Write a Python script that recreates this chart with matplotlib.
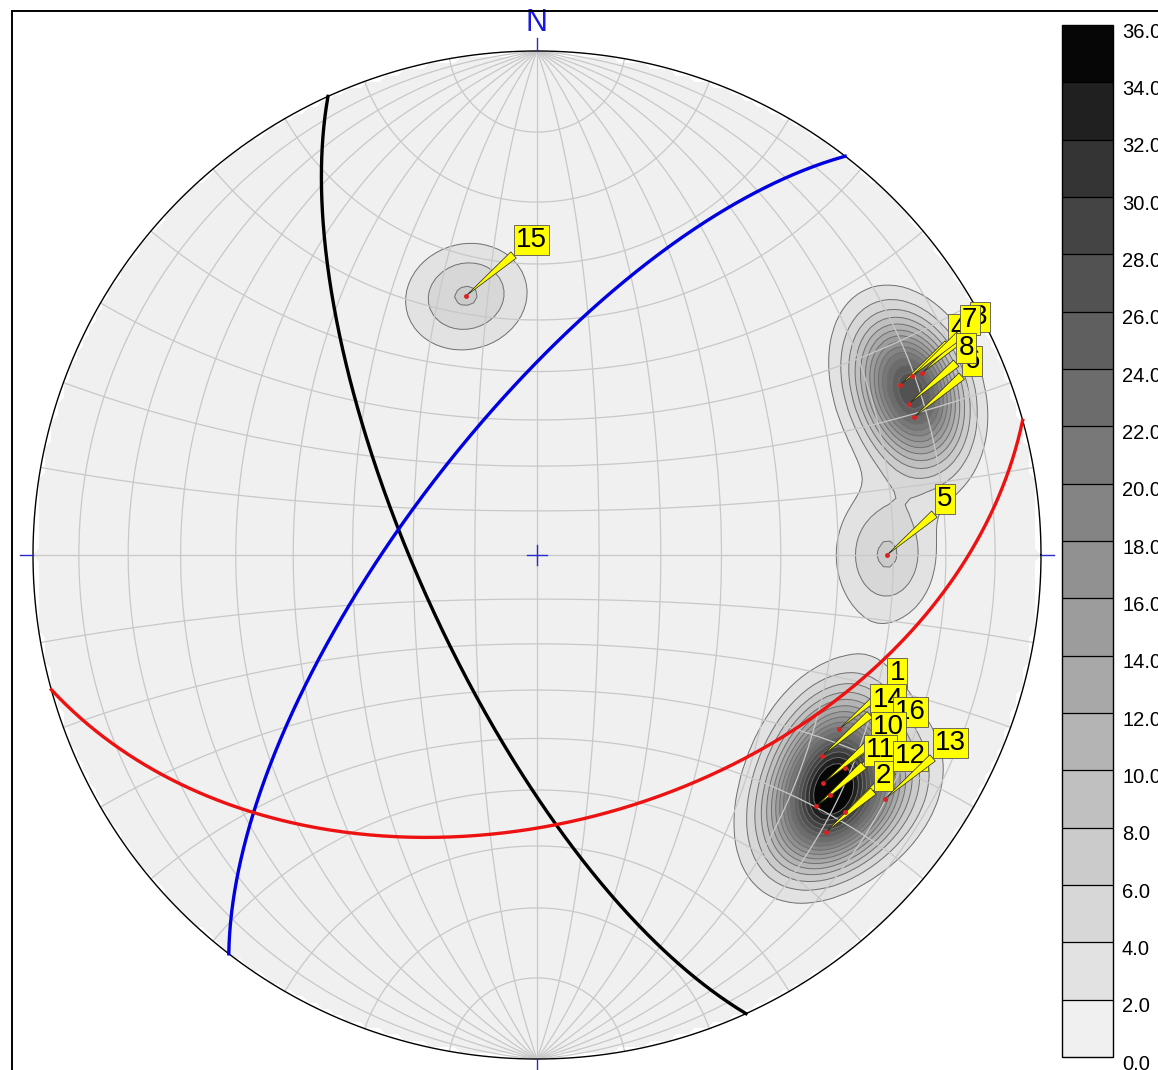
import numpy as np
import matplotlib.pyplot as plt
from matplotlib.colors import ListedColormap, BoundaryNorm
from matplotlib.lines import Line2D

plt.rcParams['font.family'] = ['Liberation Sans', 'DejaVu Sans']

# poles to planes: id, trend, plunge (deg, lower hemisphere)
pole_ids = [15, 5, 4, 3, 7, 6, 8, 1, 14, 16, 9, 10, 11, 12, 2, 13]
pole_trend = [344.7, 90.0, 64.9, 64.7, 64.5, 69.9, 67.9,
              119.9, 125.1, 124.7, 129.3, 128.6, 132.0, 129.8, 133.8, 125.0]
pole_plunge = [45.7, 31.2, 21.5, 16.6, 18.7, 21.4, 21.5,
               31.4, 31.4, 26.6, 25.8, 28.2, 26.4, 21.5, 21.7, 16.8]

# great circles, right hand rule strike / dip
plane_strike = [155.5, 217.7, 74.5]
plane_dip = [71.0, 69.5, 46.0]
plane_colors = ['black', '#0000e0', '#ee1111']

# density bands
levels = np.arange(0, 38, 2)
band_grays = [240, 226, 215, 203, 192, 180, 168, 156, 145, 132,
              120, 108, 95, 82, 68, 52, 32, 6]

KAPPA = 90.0
R_PX = 504.0
CX, CY = 537.0, 555.0
W, H = 1158, 1070


def line_xy(trend, plunge):
    t = np.radians(trend)
    p = np.radians(plunge)
    n = np.cos(p) * np.cos(t)
    e = np.cos(p) * np.sin(t)
    d = np.sin(p)
    s = np.sqrt(1 + d)
    return e / s, n / s


def plane_xy(strike, dip, num=361):
    s = np.radians(strike)
    dd = s + np.pi / 2
    dp = np.radians(dip)
    rake = np.linspace(0, np.pi, num)
    sv = np.array([np.cos(s), np.sin(s), 0.0])
    dv = np.array([np.cos(dd) * np.cos(dp), np.sin(dd) * np.cos(dp), np.sin(dp)])
    v = np.outer(np.cos(rake), sv) + np.outer(np.sin(rake), dv)
    n, e, d = v.T
    d = np.clip(d, 0, None)
    s_ = np.sqrt(1 + d)
    return e / s_, n / s_


fig = plt.figure(figsize=(W / 100, H / 100), dpi=100)
ax = fig.add_axes([0, 0, 1, 1])
ax.set_xlim(-CX / R_PX, (W - CX) / R_PX)
ax.set_ylim(-(H - CY) / R_PX, CY / R_PX)
ax.axis('off')

# pole density (fisher kernel, axial)
tr = np.radians(pole_trend)
pl = np.radians(pole_plunge)
pv = np.stack([np.cos(pl) * np.sin(tr), np.cos(pl) * np.cos(tr), np.sin(pl)], axis=1)

g = np.linspace(-1, 1, 161)
X, Y = np.meshgrid(g, g)
R2 = X ** 2 + Y ** 2
D3 = np.clip(1 - R2, 0, None)
S3 = np.sqrt(1 + D3)
E3, N3 = X * S3, Y * S3
dens = np.zeros_like(X)
for e_i, n_i, d_i in pv:
    c = np.abs(E3 * e_i + N3 * n_i + D3 * d_i)
    dens += np.exp(KAPPA * (c - 1))
dens *= 100.0 / len(pole_ids)
dens = np.clip(dens, 0, 35.9)
dens = np.ma.masked_where(R2 > 1.0, dens)

cmap = ListedColormap([(v / 255, v / 255, v / 255) for v in band_grays])
norm = BoundaryNorm(levels, cmap.N)
cs = ax.contourf(X, Y, dens, levels=levels, cmap=cmap, norm=norm, zorder=1)
ax.contour(X, Y, dens, levels=levels[1:-1], colors='#707070', linewidths=0.7, zorder=1.5)

# net: meridians (equal area) and small circles
phi = np.radians(np.linspace(-90, 90, 361))
for lon in range(-80, 90, 10):
    lam = np.radians(lon)
    x3 = np.cos(phi) * np.sin(lam)
    y3 = np.sin(phi)
    z3 = np.cos(phi) * np.cos(lam)
    s = np.sqrt(1 + z3)
    ax.plot(x3 / s, y3 / s, color='#c8c8c8', lw=0.9, zorder=2)
lam = np.radians(np.linspace(-90, 90, 361))
for lat in range(-80, 90, 10):
    ph = np.radians(lat)
    x3 = np.cos(ph) * np.sin(lam)
    y3 = np.sin(ph) * np.ones_like(lam)
    z3 = np.cos(ph) * np.cos(lam)
    ax.plot(x3 / (1 + z3), y3 / (1 + z3), color='#c8c8c8', lw=0.9, zorder=2)

a = np.linspace(0, 2 * np.pi, 721)
ax.plot(np.cos(a), np.sin(a), color='black', lw=1.0, zorder=3)

# planes
for st, dp, col in zip(plane_strike, plane_dip, plane_colors):
    px, py = plane_xy(st, dp)
    ax.plot(px, py, color=col, lw=2.4, zorder=3)

# north mark, ticks and centre cross
tick = 13 / R_PX
blue = '#2a2ad0'
ax.plot([0, 0], [1, 1 + tick], color=blue, lw=1.0, zorder=3)
ax.plot([0, 0], [-1, -1 - tick], color=blue, lw=1.0, zorder=3)
ax.plot([1, 1 + tick], [0, 0], color=blue, lw=1.0, zorder=3)
ax.plot([-1, -1 - tick], [0, 0], color=blue, lw=1.0, zorder=3)
c = 10 / R_PX
ax.plot([-c, c], [0, 0], color=blue, lw=1.0, zorder=3)
ax.plot([0, 0], [-c, c], color=blue, lw=1.0, zorder=3)
ax.text(0, 1 + tick, 'N', color='#1a1ae0', fontsize=22, ha='center', va='bottom', zorder=3)

# labelled poles
xs, ys = line_xy(np.array(pole_trend), np.array(pole_plunge))
for pid, x, y in zip(pole_ids, xs, ys):
    ax.annotate(str(pid), xy=(x, y), xytext=(50, 43), textcoords='offset pixels',
                ha='left', va='bottom', fontsize=20, zorder=5,
                bbox=dict(boxstyle='square,pad=0.08', fc='#ffff00', ec='#555555', lw=0.6),
                arrowprops=dict(arrowstyle='wedge,tail_width=0.3', fc='#ffff00',
                                ec='#222222', lw=0.5, relpos=(0, 0),
                                shrinkA=0, shrinkB=0))
ax.plot(xs, ys, 'o', color='#dd2020', ms=2.5, zorder=6)

# colour scale
cax = fig.add_axes([1062 / W, (H - 1057) / H, 51 / W, 1032 / H])
cb = fig.colorbar(cs, cax=cax, ticks=levels, drawedges=True)
cb.outline.set_linewidth(1.0)
cb.dividers.set_linewidth(0.9)
cax.set_yticklabels([])
cax.tick_params(length=0)
for lev in levels:
    cax.annotate(f'{lev:.1f}', xy=(1, lev), xycoords=cax.get_yaxis_transform(),
                 xytext=(9, -7), textcoords='offset pixels', va='center',
                 ha='left', fontsize=14.5, annotation_clip=False)

# frame
fig.add_artist(Line2D([12 / W, 12 / W], [0, 1 - 11 / H], color='black', lw=1.4))
fig.add_artist(Line2D([12 / W, 1], [1 - 11 / H, 1 - 11 / H], color='black', lw=1.4))

fig.savefig('out.png', dpi=100, facecolor='white')
